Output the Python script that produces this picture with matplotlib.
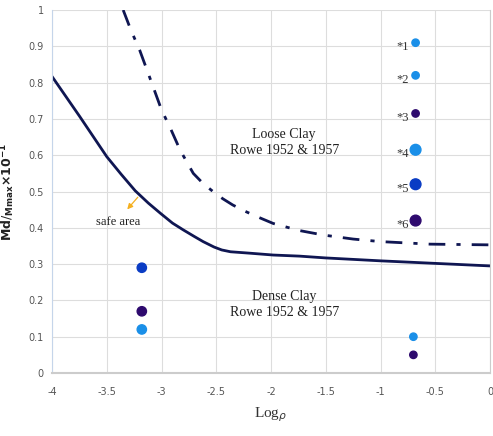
import numpy as np
import matplotlib
matplotlib.use('Agg')
import matplotlib.pyplot as plt

# dense / loose boundary curves
denseX = [-4.0, -3.75, -3.50, -3.37, -3.24, -3.12, -3.01, -2.90, -2.80, -2.70, -2.62,
          -2.52, -2.45, -2.37, -2.19, -1.98, -1.74, -1.5, -1.0, -0.5, 0.0]
denseY = [0.817, 0.708, 0.596, 0.548, 0.502, 0.468, 0.440, 0.413, 0.394, 0.376, 0.362,
          0.347, 0.339, 0.334, 0.330, 0.325, 0.322, 0.317, 0.309, 0.302, 0.295]
looseX = [-3.35, -3.28, -3.20, -3.11, -3.00, -2.92, -2.83, -2.71, -2.62, -2.53, -2.44,
          -2.35, -2.24, -2.13, -1.98, -1.75, -1.52, -1.25, -1.0, -0.55, 0.0]
looseY = [1.0, 0.945, 0.89, 0.816, 0.725, 0.675, 0.614, 0.55, 0.522, 0.50, 0.48,
          0.463, 0.446, 0.431, 0.412, 0.393, 0.380, 0.369, 0.362, 0.355, 0.353]

# measured points
ptX = [-3.18, -3.18, -3.18, -0.70, -0.70]
ptY = [0.29, 0.17, 0.12, 0.10, 0.05]
ptC = ['#0a3cc4', '#2e0a6e', '#1a8fe8', '#1a8fe8', '#2e0a6e']
ptS = [45, 45, 45, 28, 28]

# legend-like key points
keyLabels = ['*1', '*2', '*3', '*4', '*5', '*6']
keyX = [-0.68] * 6
keyY = [0.91, 0.82, 0.715, 0.615, 0.52, 0.42]
keyC = ['#1a8fe8', '#1a8fe8', '#2e0a6e', '#1a8fe8', '#0a3cc4', '#2e0a6e']
keyS = [28, 28, 28, 60, 60, 60]

xTicks = [-4, -3.5, -3, -2.5, -2, -1.5, -1, -0.5, 0]
yTicks = [0, 0.1, 0.2, 0.3, 0.4, 0.5, 0.6, 0.7, 0.8, 0.9, 1]

lineColor = '#0f1652'
serif = ['Liberation Serif', 'DejaVu Serif']
tickFont = ['Liberation Sans Narrow', 'DejaVu Sans']

fig = plt.figure(figsize=(4.93, 4.36), dpi=100)
ax = fig.add_axes([0.1055, 0.1445, 0.8885, 0.8325])

ax.plot(denseX, denseY, color=lineColor, linewidth=2, solid_joinstyle='round')
ax.plot(looseX, looseY, color=lineColor, linewidth=2, dashes=(6, 4, 1.5, 4))

ax.scatter(ptX, ptY, s=ptS, c=ptC, zorder=3)
ax.scatter(keyX, keyY, s=keyS, c=keyC, zorder=3)
for lab, x, y in zip(keyLabels, keyX, keyY):
    ax.text(x - 0.06, y - 0.012, lab, ha='right', va='center', fontsize=9,
            family=serif, color='#333333')

ax.text(-1.88, 0.635, 'Loose Clay\nRowe 1952 & 1957', ha='center', va='center',
        fontsize=10, family=serif, color='#222222', linespacing=1.3)
ax.text(-1.88, 0.19, 'Dense Clay\nRowe 1952 & 1957', ha='center', va='center',
        fontsize=10, family=serif, color='#222222', linespacing=1.3)
ax.text(-3.4, 0.415, 'safe area', ha='center', va='center', fontsize=9,
        family=serif, color='#222222')
ax.annotate('', xy=(-3.33, 0.445), xytext=(-3.2, 0.49),
            arrowprops=dict(arrowstyle='-|>', color='#f5b020', lw=0.9,
                            mutation_scale=8))

ax.set_xlim(-4, 0)
ax.set_ylim(0, 1)
ax.set_xticks(xTicks)
ax.set_xticklabels([f'{t:g}' for t in xTicks])
ax.set_yticks(yTicks)
ax.set_yticklabels([f'{t:g}' for t in yTicks])
ax.tick_params(length=0, labelsize=7, colors='#555555', pad=6)
for lab in ax.get_xticklabels() + ax.get_yticklabels():
    lab.set_family(tickFont)
ax.tick_params(axis='x', pad=10)
ax.grid(color='#dddddd', linewidth=0.8)
ax.set_axisbelow(True)
ax.spines['top'].set_visible(False)
ax.spines['left'].set_color('#c5d5ea')
ax.spines['bottom'].set_color('#cccccc')
ax.spines['bottom'].set_linewidth(1.5)
ax.spines['right'].set_color('#cccccc')

ax.set_xlabel(r'Log$_\rho$', fontsize=11, family=serif, color='#333333', labelpad=6)
ax.set_ylabel(r'$\mathbf{Md}/_{\mathbf{Mmax}}\mathbf{\times 10^{-1}}$', fontsize=9,
              color='#222222', labelpad=8)

fig.savefig('out.png', dpi=100)
